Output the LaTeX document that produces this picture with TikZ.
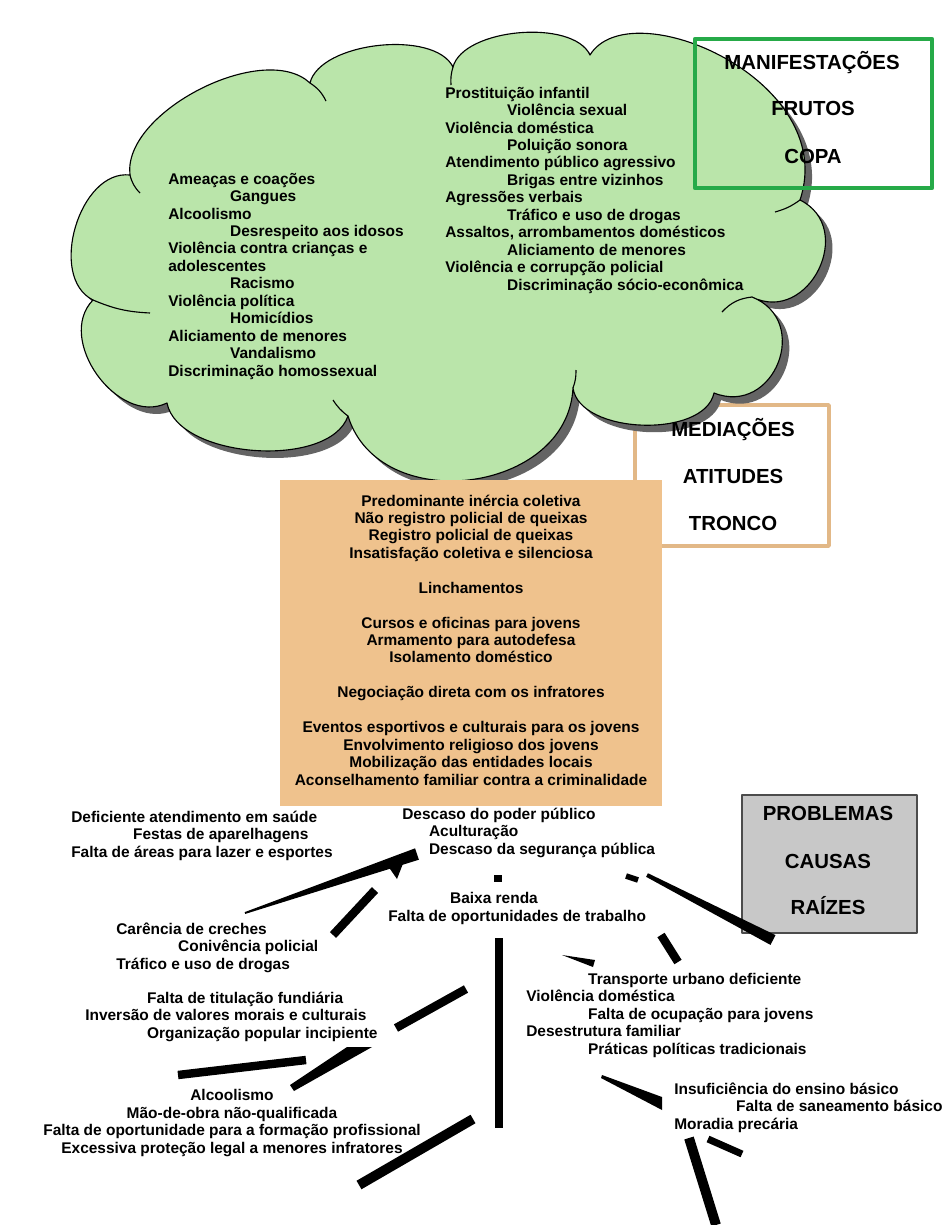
\documentclass[tikz,border=0pt]{standalone}
\usepackage{fontspec}
\setmainfont{Liberation Sans}
\definecolor{cloudgreen}{RGB}{186,229,170}
\definecolor{cloudshade}{RGB}{100,100,100}
\definecolor{copagreen}{RGB}{38,170,72}
\definecolor{troncotan}{RGB}{226,184,135}
\definecolor{troncofill}{RGB}{239,194,141}
\definecolor{raizgray}{RGB}{200,200,200}
\newcommand{\ind}{\hspace*{44pt}}
\tikzset{
  itemtxt/.style={font=\fontsize{11}{12.4}\selectfont\bfseries, inner sep=0pt, align=left, anchor=base west},
  titletxt/.style={font=\fontsize{14.5}{17}\selectfont\bfseries, inner sep=0pt, anchor=base},
  root/.style={line width=6pt},
  tail/.style={line width=0.8pt}
}
\begin{document}
\begin{tikzpicture}[x=0.025cm,y=-0.025cm,line join=round]
\useasboundingbox (0,0) rectangle (950,1225);
% tronco frame sits under the cloud
\draw[troncotan, line width=2.5pt, fill=white] (635,405) rectangle (829,546);
% the cloud: shadow first, then the green
\foreach \d/\c/\o in {7/cloudshade/none, 0/cloudgreen/black} {
  \filldraw[fill=\c, draw=\o, line width=0.8pt, shift={(\d,\d)}]
    (130,175) to[bend left=70, looseness=0.8] (310,83)
    to[bend left=70, looseness=0.75] (453,67)
    to[bend left=70, looseness=0.75] (590,55)
    .. controls (630,-10) and (840,80) .. (800,200)
    to[bend left=90, looseness=1.5] (752,297)
    to[bend left=90, looseness=1.6] (714,393)
    to[bend left=80, looseness=0.85] (573,388)
    to[bend left=80, looseness=1.2] (348,416)
    to[bend left=75, looseness=0.8] (167,403)
    to[bend left=80, looseness=1.1] (93,300)
    to[bend left=80, looseness=1.0] (130,175) -- cycle;
}
\draw[tail] (130,175) to[bend right=15] (140,193);
\draw[tail] (310,83) to[bend left=15] (326,101);
\draw[tail] (453,67) to[bend right=10] (451,85);
\draw[tail] (800,200) to[bend left=10] (775,212);
\draw[tail] (752,297) to[bend right=20] (722,312);
\draw[tail] (573,388) to[bend right=10] (576,370);
\draw[tail] (348,416) to[bend left=10] (333,400);
\draw[tail] (93,300) to[bend right=10] (150,313);
% manifestacoes (multi-line nodes sit on their last baseline)
\node[itemtxt] (violA) at (168,376) {Ameaças e coações\\ \ind Gangues\\ Alcoolismo\\ \ind Desrespeito aos idosos\\ Violência contra crianças e\\ adolescentes\\ \ind Racismo\\ Violência política\\ \ind Homicídios\\ Aliciamento de menores\\ \ind Vandalismo\\ Discriminação homossexual};
\node[itemtxt] (violB) at (445,290) {Prostituição infantil\\ \ind Violência sexual\\ Violência doméstica\\ \ind Poluição sonora\\ Atendimento público agressivo\\ \ind Brigas entre vizinhos\\ Agressões verbais\\ \ind Tráfico e uso de drogas\\ Assaltos, arrombamentos domésticos\\ \ind Aliciamento de menores\\ Violência e corrupção policial\\ \ind Discriminação sócio-econômica};
\draw[copagreen, line width=3pt] (695,39) rectangle (932,188);
\node[titletxt] (manif) at (812,69) {MANIFESTAÇÕES};
\node[titletxt] (frutos) at (813,115) {FRUTOS};
\node[titletxt] (copa) at (813,163) {COPA};
% mediacoes
\node[titletxt] (medi) at (733,436) {MEDIAÇÕES};
\node[titletxt] (atit) at (733,483) {ATITUDES};
\node[titletxt] (tronco) at (733,530) {TRONCO};
\fill[troncofill] (280,480) rectangle (662,806);
\node[itemtxt, align=center, anchor=base] (atitudes) at (471,785) {Predominante inércia coletiva\\ Não registro policial de queixas\\ Registro policial de queixas\\ Insatisfação coletiva e silenciosa\\[12.4pt] Linchamentos\\[12.4pt] Cursos e oficinas para jovens\\ Armamento para autodefesa\\ Isolamento doméstico\\[12.4pt] Negociação direta com os infratores\\[12.4pt] Eventos esportivos e culturais para os jovens\\ Envolvimento religioso dos jovens\\ Mobilização das entidades locais\\ Aconselhamento familiar contra a criminalidade};
% problemas
\filldraw[fill=raizgray, draw=black!70, line width=1pt] (742,795) rectangle (917,933);
\node[titletxt] (probl) at (828,820) {PROBLEMAS};
\node[titletxt] (causas) at (828,868) {CAUSAS};
\node[titletxt] (raizes) at (828,914) {RAÍZES};
\node[itemtxt] (saude) at (71,857) {Deficiente atendimento em saúde\\ \ind Festas de aparelhagens\\ Falta de áreas para lazer e esportes};
\node[itemtxt] (descaso) at (402,854) {Descaso do poder público\\ \hspace*{19pt}Aculturação\\ \hspace*{19pt}Descaso da segurança pública};
\node[itemtxt] (renda) at (388,921) {\ind Baixa renda\\ Falta de oportunidades de trabalho};
\node[itemtxt] (creches) at (116,969) {Carência de creches\\ \ind Conivência policial\\ Tráfico e uso de drogas};
\node[itemtxt] (fundiaria) at (85,1038) {\ind Falta de titulação fundiária\\ Inversão de valores morais e culturais\\ \ind Organização popular incipiente};
\node[itemtxt, align=center, anchor=base] (alcool) at (232,1153) {Alcoolismo\\ Mão-de-obra não-qualificada\\ Falta de oportunidade para a formação profissional\\ Excessiva proteção legal a menores infratores};
\node[itemtxt] (familia) at (526,1054) {\ind Transporte urbano deficiente\\ Violência doméstica\\ \ind Falta de ocupação para jovens\\ Desestrutura familiar\\ \ind Práticas políticas tradicionais};
\node[itemtxt] (moradia) at (674,1129) {Insuficiência do ensino básico\\ \ind Falta de saneamento básico\\ Moradia precária};
% roots
\fill (244.7,912.1) -- (415.1,848.3) -- (418.9,859.7) -- (245.3,913.9) -- cycle;
\fill (388,866) -- (404,861) -- (397,879) -- cycle;
\draw[root] (333,935) -- (375,890);
\fill (494,875) rectangle (502,882);
\draw[root, line width=4pt] (626,876) -- (638,880);
\fill (647.9,873.2) -- (775.5,935.1) -- (770.5,944.9) -- (646.1,876.8) -- cycle;
\draw[root] (499,938) -- (499,1128);
\fill (562,955) -- (595,960) -- (593,967) -- cycle;
\draw[root] (661,935) -- (678,962);
\fill (602,1075) -- (662,1097) -- (662,1110) -- (601,1078) -- cycle;
\draw[root, line width=5pt] (708,1139) -- (742,1154);
\draw[root, line width=7pt] (689,1138) -- (716,1225);
\draw[root] (178,1075) -- (306,1060);
\fill (290,1085) -- (347,1047) -- (372,1047) -- (294,1091) -- cycle;
\draw[root] (396,1028) -- (466,989);
\draw[root, line width=7pt] (359,1185) -- (473,1119);
\end{tikzpicture}
\end{document}
